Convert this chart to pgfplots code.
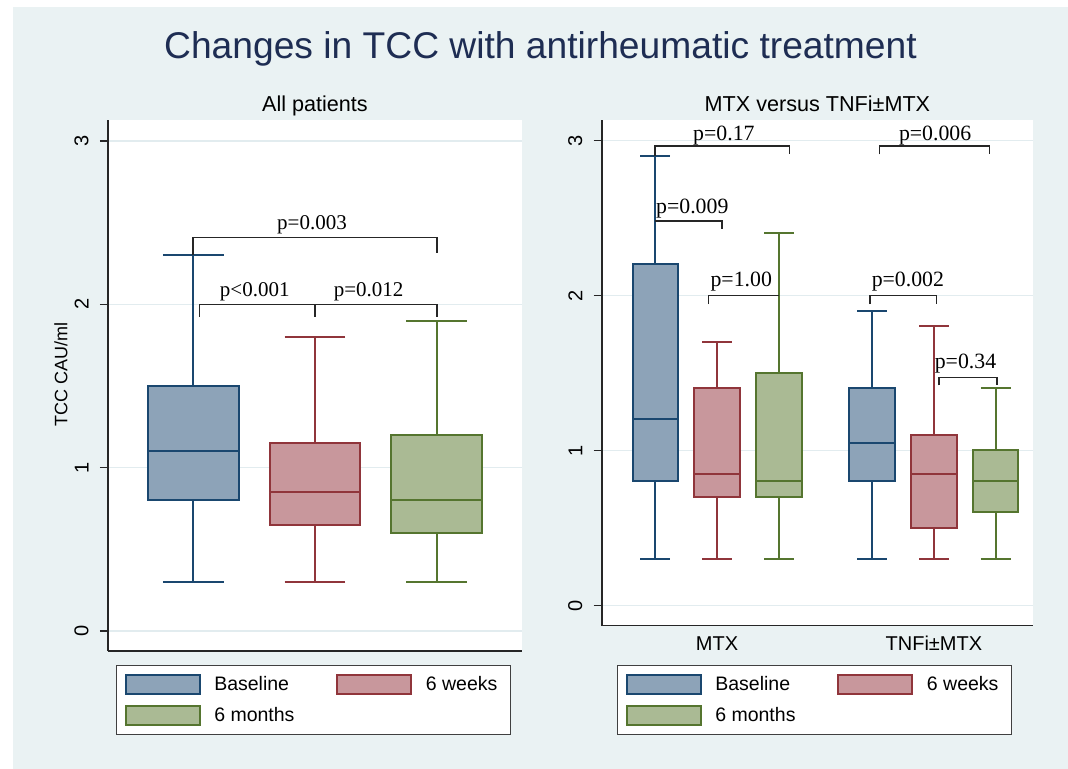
\documentclass[border=0pt]{standalone}
\usepackage{pgfplots}
\pgfplotsset{compat=1.18}
\usepgfplotslibrary{statistics}
\usepackage{fontspec}
\setmainfont{Liberation Sans}
\newfontfamily\pvfont{Liberation Serif}
\definecolor{bgc}{RGB}{234,242,243}
\definecolor{gridc}{RGB}{226,236,239}
\definecolor{titlec}{RGB}{30,45,83}
\definecolor{navyl}{RGB}{26,71,111}
\definecolor{navyf}{RGB}{141,163,184}
\definecolor{maroonl}{RGB}{144,53,59}
\definecolor{maroonf}{RGB}{200,151,156}
\definecolor{greenl}{RGB}{85,117,47}
\definecolor{greenf}{RGB}{170,186,148}
\tikzset{
  pvL/.style={font=\pvfont\fontsize{10.5bp}{12bp}\selectfont, inner sep=0pt, anchor=base},
  pvR/.style={font=\pvfont\fontsize{10.9bp}{12bp}\selectfont, inner sep=0pt, anchor=base},
}
\pgfplotsset{
  stata/.style={
    scale only axis, clip=false,
    boxplot/draw direction=y,
    axis x line*=bottom, axis y line*=left,
    axis line style={-, black!85, line width=0.8bp},
    axis background/.style={fill=white},
    ytick={0,1,2,3},
    yticklabel={\rotatebox{90}{\pgfmathprintnumber{\tick}}},
    /pgf/number format/assume math mode=true,
    ymajorgrids, grid style={gridc, line width=0.7bp},
    tick align=outside, major tick length=4bp,
    tick style={black!85, line width=0.6bp},
    yticklabel style={anchor=east, inner sep=0pt, xshift=-5.5bp, font=\fontsize{10bp}{12bp}\selectfont},
    legend columns=2,
    legend style={anchor=north west, draw=black!75, line width=0.7bp, fill=white,
      inner xsep=4.15bp, inner ysep=4.15bp, row sep=4.9bp, column sep=0bp,
      cells={anchor=west}, nodes={inner sep=0pt, font=\fontsize{9.75bp}{11bp}\selectfont}},
  },
  navybox/.style={draw=navyl, fill=navyf, line width=1bp, solid, forget plot},
  maroonbox/.style={draw=maroonl, fill=maroonf, line width=1bp, solid, forget plot},
  greenbox/.style={draw=greenl, fill=greenf, line width=1bp, solid, forget plot},
  brk/.style={black!85, line width=0.8bp, forget plot},
}
\newcommand{\stlegend}{%
  \addlegendimage{legend image code/.code={\draw[draw=navyl, fill=navyf, line width=0.9bp] (0bp,-4.85bp) rectangle (37bp,4.85bp); \path (44bp,0bp);}}
  \addlegendentry{Baseline}
  \addlegendimage{legend image code/.code={\path (-21bp,0bp); \draw[draw=maroonl, fill=maroonf, line width=0.9bp] (0bp,-4.85bp) rectangle (37bp,4.85bp); \path (44bp,0bp);}}
  \addlegendentry{6 weeks\hspace*{2.5bp}}
  \addlegendimage{legend image code/.code={\draw[draw=greenl, fill=greenf, line width=0.9bp] (0bp,-4.85bp) rectangle (37bp,4.85bp); \path (44bp,0bp);}}
  \addlegendentry{6 months}
}
\begin{document}
\begin{tikzpicture}
\fill[white] (0bp,0bp) rectangle (534bp,384.5bp);
\fill[bgc] (6.5bp,0bp) rectangle (534bp,381bp);
\node[anchor=base, font=\fontsize{18.6bp}{22bp}\selectfont, text=titlec, inner sep=0pt] at (270.25bp,355bp) {Changes in TCC with antirheumatic treatment};
\node[anchor=base, font=\fontsize{10.8bp}{13bp}\selectfont, inner sep=0pt] at (157.5bp,328.65bp) {All patients};
\node[anchor=base, font=\fontsize{10.8bp}{13bp}\selectfont, inner sep=0pt] at (408.7bp,328.65bp) {MTX versus TNFi±MTX};

% ---------- Left panel: all patients ----------
\begin{axis}[stata, at={(54bp,59bp)}, anchor=south west, width=207bp, height=265.5bp,
  xmin=0.30, xmax=3.70, ymin=-0.1225, ymax=3.129, xtick=\empty,
  ylabel={TCC CAU/ml},
  ylabel style={at={(axis description cs:-0.1135,0.52)}, anchor=center, font=\fontsize{9bp}{11bp}\selectfont},
  legend style={at={(0.0186,-0.0264)}}]
\addplot[navybox, boxplot prepared={draw position=1, lower whisker=0.3, lower quartile=0.8, median=1.1, upper quartile=1.5, upper whisker=2.3, box extend=0.745, whisker extend=0.5}] coordinates {};
\addplot[maroonbox, boxplot prepared={draw position=2, lower whisker=0.3, lower quartile=0.65, median=0.85, upper quartile=1.15, upper whisker=1.8, box extend=0.745, whisker extend=0.5}] coordinates {};
\addplot[greenbox, boxplot prepared={draw position=3, lower whisker=0.3, lower quartile=0.6, median=0.8, upper quartile=1.2, upper whisker=1.9, box extend=0.745, whisker extend=0.5}] coordinates {};
\addplot[brk] coordinates {(1,2.3) (1,2.41) (3,2.41) (3,2.315)};
\addplot[brk] coordinates {(1.05,1.923) (1.05,2.0) (3,2.0) (3,1.923)};
\addplot[brk] coordinates {(2,2.0) (2,1.923)};
\node[pvL] at (axis cs:1.975,2.456) {p=0.003};
\node[pvL] at (axis cs:1.505,2.047) {p<0.001};
\node[pvL] at (axis cs:2.44,2.047) {p=0.012};
\stlegend
\end{axis}

% ---------- Right panel: MTX versus TNFi+-MTX ----------
\begin{axis}[stata, at={(300.85bp,71.75bp)}, anchor=south west, width=215.65bp, height=252.75bp,
  xmin=0.1375, xmax=7.10, ymin=-0.129, ymax=3.132,
  xtick={2,5.5}, xticklabels={MTX,TNFi±MTX}, xtick style={draw=none},
  xticklabel style={anchor=base, inner sep=0pt, yshift=-8.5bp, font=\fontsize{10bp}{12bp}\selectfont},
  legend style={at={(0.0348,-0.0781)}}]
\addplot[navybox, boxplot prepared={draw position=1, lower whisker=0.3, lower quartile=0.8, median=1.2, upper quartile=2.2, upper whisker=2.9, box extend=0.73, whisker extend=0.48}] coordinates {};
\addplot[maroonbox, boxplot prepared={draw position=2, lower whisker=0.3, lower quartile=0.7, median=0.85, upper quartile=1.4, upper whisker=1.7, box extend=0.73, whisker extend=0.48}] coordinates {};
\addplot[greenbox, boxplot prepared={draw position=3, lower whisker=0.3, lower quartile=0.7, median=0.8, upper quartile=1.5, upper whisker=2.4, box extend=0.73, whisker extend=0.48}] coordinates {};
\addplot[navybox, boxplot prepared={draw position=4.5, lower whisker=0.3, lower quartile=0.8, median=1.05, upper quartile=1.4, upper whisker=1.9, box extend=0.73, whisker extend=0.48}] coordinates {};
\addplot[maroonbox, boxplot prepared={draw position=5.5, lower whisker=0.3, lower quartile=0.5, median=0.85, upper quartile=1.1, upper whisker=1.8, box extend=0.73, whisker extend=0.48}] coordinates {};
\addplot[greenbox, boxplot prepared={draw position=6.5, lower whisker=0.3, lower quartile=0.6, median=0.8, upper quartile=1.0, upper whisker=1.4, box extend=0.73, whisker extend=0.48}] coordinates {};
\addplot[brk] coordinates {(1,2.9) (1,2.966) (3.17,2.966) (3.17,2.91)};
\addplot[brk] coordinates {(4.62,2.91) (4.62,2.966) (6.40,2.966) (6.40,2.91)};
\addplot[brk] coordinates {(1,2.48) (2.08,2.48) (2.08,2.43)};
\addplot[brk] coordinates {(1.86,1.944) (1.86,2.0) (3,2.0)};
\addplot[brk] coordinates {(4.47,1.944) (4.47,2.0) (5.54,2.0) (5.54,1.944)};
\addplot[brk] coordinates {(5.58,1.42) (5.58,1.47) (6.52,1.47) (6.52,1.42)};
\node[pvR] at (axis cs:2.11,3.0) {p=0.17};
\node[pvR] at (axis cs:5.52,3.0) {p=0.006};
\node[pvR] at (axis cs:1.60,2.528) {p=0.009};
\node[pvR] at (axis cs:2.39,2.055) {p=1.00};
\node[pvR] at (axis cs:5.08,2.055) {p=0.002};
\node[pvR] at (axis cs:6.01,1.528) {p=0.34};
\stlegend
\end{axis}
\end{tikzpicture}
\end{document}
